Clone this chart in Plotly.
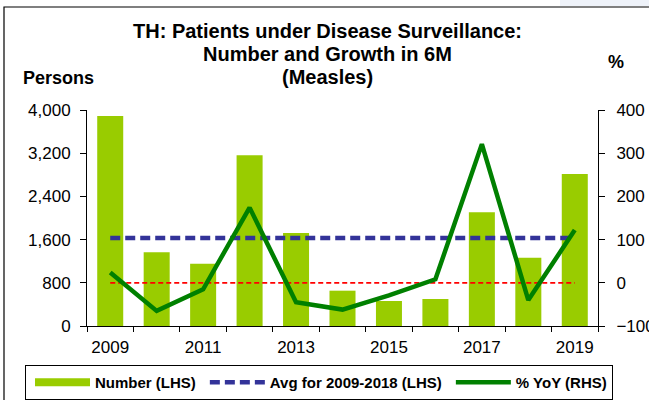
import plotly.graph_objects as go

years = ["2009", "2010", "2011", "2012", "2013", "2014", "2015", "2016", "2017", "2018", "2019"]
tick_labels = ["2009", "", "2011", "", "2013", "", "2015", "", "2017", "", "2019"]
number_lhs = [3890, 1365, 1155, 3160, 1722, 654, 463, 500, 2105, 1265, 2815]
yoy_rhs = [24, -65, -15, 174, -45, -62, -29, 8, 321, -40, 122]
avg_2009_2018 = [1628] * len(years)
zero_line_lhs = [800] * len(years)

FONT = "Liberation Sans, Arial, sans-serif"
GREEN_BAR = "#99CC00"
BLUE = "#333399"
GREEN_LINE = "#008000"
RED = "#FF0000"

# plot area in pixels
L, R, T, B = 87, 598, 110, 326
W, H = 649, 400


def px(x):
    return (x - L) / (R - L)


def py(y):
    return (B - y) / (B - T)


fig = go.Figure()
fig.add_trace(go.Bar(x=years, y=number_lhs, marker=dict(color=GREEN_BAR, line=dict(width=0)),
                     name="Number (LHS)", showlegend=False, yaxis="y"))
fig.add_trace(go.Scatter(x=years, y=zero_line_lhs, mode="lines",
                         line=dict(color=RED, width=1.8, dash="5px,3px"), showlegend=False, yaxis="y"))
fig.add_trace(go.Scatter(x=years, y=avg_2009_2018, mode="lines",
                         line=dict(color=BLUE, width=4.5, dash="10px,5px"), showlegend=False, yaxis="y"))
fig.add_trace(go.Scatter(x=years, y=yoy_rhs, mode="lines",
                         line=dict(color=GREEN_LINE, width=4.5), showlegend=False, yaxis="y2"))

# legend entries
fig.add_trace(go.Scatter(x=[None], y=[None], mode="lines", name="Number (LHS)",
                         line=dict(color=GREEN_BAR, width=8)))
fig.add_trace(go.Scatter(x=[None], y=[None], mode="lines", name="Avg for 2009-2018 (LHS)",
                         line=dict(color=BLUE, width=4.5, dash="10px,5px")))
fig.add_trace(go.Scatter(x=[None], y=[None], mode="lines", name="% YoY (RHS)",
                         line=dict(color=GREEN_LINE, width=4.5)))

tickfont = dict(family=FONT, size=17, color="black")
fig.update_layout(
    width=W, height=H,
    margin=dict(l=L, r=W - R, t=T, b=H - B, pad=0, autoexpand=False),
    paper_bgcolor="white", plot_bgcolor="white",
    bargap=0.44,
    xaxis=dict(type="category", tickvals=years, ticktext=tick_labels, tickson="boundaries",
               ticks="outside", ticklen=5, tickcolor="black", showline=True, linecolor="black",
               linewidth=1, showgrid=False, tickfont=tickfont, range=[-0.5, 10.5],
               tickangle=0, automargin=False, ticklabelstandoff=6),
    yaxis=dict(range=[0, 4000], dtick=800, tickformat=",", ticks="outside", ticklen=6,
               tickcolor="black", showline=True, linecolor="black", linewidth=1,
               showgrid=False, zeroline=False, tickfont=tickfont, automargin=False,
               ticklabelstandoff=6),
    yaxis2=dict(range=[-100, 400], dtick=100, overlaying="y", side="right", ticks="outside",
                ticklen=6, tickcolor="black", showline=True, linecolor="black", linewidth=1,
                showgrid=False, zeroline=False, tickfont=tickfont, automargin=False,
                ticklabelstandoff=8),
    legend=dict(orientation="h", x=px(25), xanchor="left", y=py(365), yanchor="top",
                bordercolor="black", borderwidth=1, bgcolor="white",
                font=dict(family=FONT, size=15, color="black", weight="bold"),
                itemwidth=55, indentation=4),
    showlegend=True,
)

title_lines = ["TH: Patients under Disease Surveillance:", "Number and Growth in 6M", "(Measles)"]
title_y = [31, 54, 77]
for txt, yy in zip(title_lines, title_y):
    fig.add_annotation(text=txt, xref="paper", yref="paper", x=px(327), y=py(yy),
                       xanchor="center", yanchor="middle", showarrow=False,
                       font=dict(family=FONT, size=20, color="black", weight="bold"))
fig.add_annotation(text="Persons", xref="paper", yref="paper", x=px(58), y=py(78),
                   xanchor="center", yanchor="middle", showarrow=False,
                   font=dict(family=FONT, size=18, color="black", weight="bold"))
fig.add_annotation(text="%", xref="paper", yref="paper", x=px(616), y=py(62),
                   xanchor="center", yanchor="middle", showarrow=False,
                   font=dict(family=FONT, size=18, color="black", weight="bold"))

# outer frame and faint top-right shading
fig.add_shape(type="rect", xref="paper", yref="paper", x0=px(560), x1=px(660), y0=py(0), y1=py(6),
              line=dict(width=0), fillcolor="#eef2f9", layer="below")
fig.add_shape(type="rect", xref="paper", yref="paper", x0=px(4), x1=px(700), y0=py(7), y1=py(450),
              line=dict(color="black", width=1.2), fillcolor="rgba(0,0,0,0)")

fig.write_html("out.html", config={"displayModeBar": False},
               post_script="document.body.style.margin='0px';")
